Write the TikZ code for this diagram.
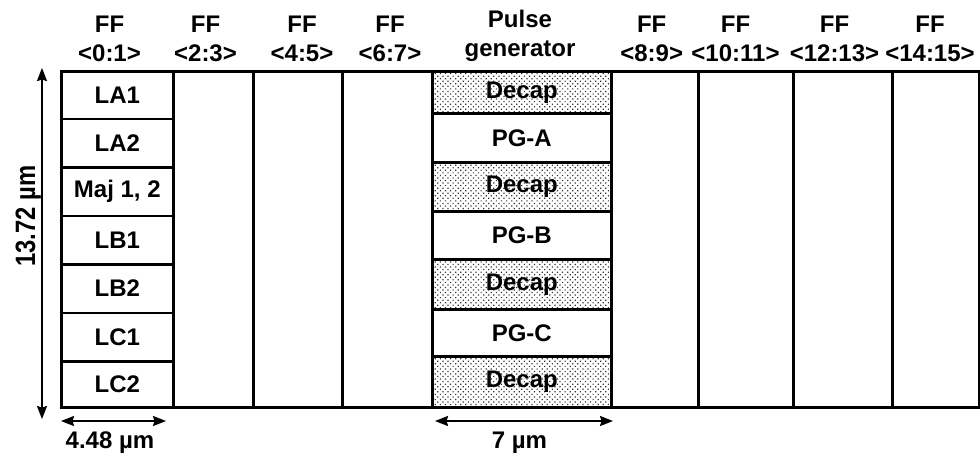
\documentclass[tikz,border=0pt]{standalone}
\usepackage{fontspec}
\setmainfont{Liberation Sans}
\newfontfamily\rotfont{Liberation Sans}[FakeStretch=0.85]
\usetikzlibrary{arrows.meta,patterns.meta}
\begin{document}
\begin{tikzpicture}[x=1pt,y=-1pt,
  txt/.style={font=\fontsize{24}{29}\selectfont\bfseries, inner sep=0pt},
  cellbox/.style={draw, line width=2.6pt, inner sep=0pt, anchor=north west, txt},
  decap/.style={cellbox, pattern={Dots[distance=3.6pt, angle=45, radius=0.85pt]}, pattern color=black!80},
  hdr/.style={txt, align=center, anchor=north},
  dimarrow/.style={line width=2pt, {Stealth[length=13pt,width=10pt,inset=1.5pt]}-{Stealth[length=13pt,width=10pt,inset=1.5pt]}},
]
\useasboundingbox (0,0) rectangle (980,458);

% left column
\node[cellbox, minimum width=112pt, minimum height=47.5pt] (la1) at (60,70) {LA1};
\node[cellbox, minimum width=112pt, minimum height=48.5pt] (la2) at (60,117.5) {LA2};
\node[cellbox, minimum width=112pt, minimum height=48.5pt] (maj) at (60,166) {Maj 1, 2};
\node[cellbox, minimum width=112pt, minimum height=48.5pt] (lb1) at (60,214.5) {LB1};
\node[cellbox, minimum width=112pt, minimum height=48.5pt] (lb2) at (60,263) {LB2};
\node[cellbox, minimum width=112pt, minimum height=48.5pt] (lc1) at (60,311.5) {LC1};
\node[cellbox, minimum width=112pt, minimum height=46pt] (lc2) at (60,360) {LC2};

% empty FF columns
\node[cellbox, minimum width=80pt, minimum height=336pt] (c1) at (172,70) {};
\node[cellbox, minimum width=89pt, minimum height=336pt] (c2) at (252,70) {};
\node[cellbox, minimum width=90pt, minimum height=336pt] (c3) at (341,70) {};
\node[cellbox, minimum width=87pt, minimum height=336pt] (c4) at (610,70) {};
\node[cellbox, minimum width=95pt, minimum height=336pt] (c5) at (697,70) {};
\node[cellbox, minimum width=99pt, minimum height=336pt] (c6) at (792,70) {};
\node[cellbox, minimum width=87pt, minimum height=336pt] (c7) at (891,70) {};

% pulse generator column
\node[decap, minimum width=179pt, minimum height=42pt] (d1) at (431,70) {Decap};
\node[cellbox, minimum width=179pt, minimum height=49pt] (pga) at (431,112) {PG-A};
\node[decap, minimum width=179pt, minimum height=49pt] (d2) at (431,161) {Decap};
\node[cellbox, minimum width=179pt, minimum height=48pt] (pgb) at (431,210) {PG-B};
\node[decap, minimum width=179pt, minimum height=50pt] (d3) at (431,258) {Decap};
\node[cellbox, minimum width=179pt, minimum height=47pt] (pgc) at (431,308) {PG-C};
\node[decap, minimum width=179pt, minimum height=51pt] (d4) at (431,355) {Decap};

% headers
\node[hdr] (h0) at (109.5,15.5) {FF\\<0:1>};
\node[hdr] (h1) at (205.5,15.5) {FF\\<2:3>};
\node[hdr] (h2) at (302,15.5) {FF\\<4:5>};
\node[hdr] (h3) at (390,15.5) {FF\\<6:7>};
\node[hdr] (hp) at (520,9.5) {Pulse\\generator};
\node[hdr] (h4) at (651.7,15.5) {FF\\<8:9>};
\node[hdr] (h5) at (735.5,15.5) {FF\\<10:11>};
\node[hdr] (h6) at (834.5,15.5) {FF\\<12:13>};
\node[hdr] (h7) at (930,15.5) {FF\\<14:15>};

% dimensions
\coordinate (vt) at (42,68);
\coordinate (vb) at (42,419);
\draw[dimarrow] (vt) -- (vb);
\node[font=\rotfont\fontsize{28}{28}\selectfont\bfseries, inner sep=0pt, rotate=90, anchor=base] (vl) at (35,216) {13.72 µm};

\coordinate (w1l) at (61,421);
\coordinate (w1r) at (166,421);
\draw[dimarrow] (w1l) -- (w1r);
\node[txt, anchor=base] (w1) at (110,448) {4.48 µm};

\coordinate (w2l) at (435,421);
\coordinate (w2r) at (613,421);
\draw[dimarrow] (w2l) -- (w2r);
\node[txt, anchor=base] (w2) at (519.5,448) {7 µm};
\end{tikzpicture}
\end{document}
